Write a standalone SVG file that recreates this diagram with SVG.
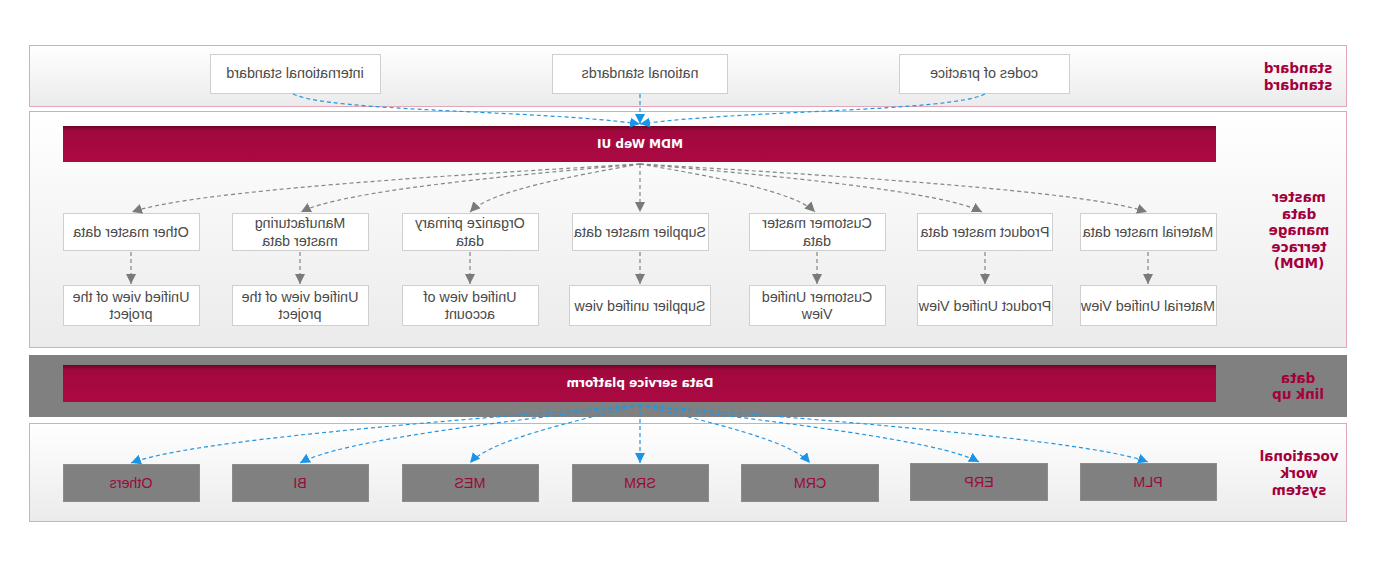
<svg xmlns="http://www.w3.org/2000/svg" width="1380" height="570" viewBox="0 0 1380 570">
<defs>
<style>
.band{fill:url(#bandg);stroke:#e2a6b8;stroke-width:1}
.box{fill:#fff;stroke:#cfcfcf;stroke-width:1}
.gbox{fill:#808080;stroke:#8c8c8c;stroke-width:1}
.bar{fill:url(#barg)}
.t{font-family:"Liberation Sans",Arial,sans-serif;font-size:14.3px;fill:#4a4a4a;text-anchor:middle}
.gt{font-family:"Liberation Sans",Arial,sans-serif;font-size:14.3px;fill:#9c0a3c;text-anchor:middle}
.bt{font-family:"DejaVu Sans",Verdana,sans-serif;font-weight:bold;font-size:12px;fill:#fff;text-anchor:middle}
.lbl{font-family:"DejaVu Sans",Verdana,sans-serif;font-weight:bold;font-size:13.5px;fill:#a3003c;text-anchor:middle}
.gc{fill:none;stroke:#858585;stroke-width:1.2;stroke-dasharray:4 3;marker-end:url(#ag)}
.bc{fill:none;stroke:#2196e3;stroke-width:1.2;stroke-dasharray:4 3;marker-end:url(#ab)}
</style>
<linearGradient id="bandg" x1="0" y1="0" x2="0" y2="1"><stop offset="0" stop-color="#ffffff"/><stop offset="1" stop-color="#ebebeb"/></linearGradient>
<linearGradient id="barg" x1="0" y1="0" x2="0" y2="1"><stop offset="0" stop-color="#6e0424"/><stop offset="0.14" stop-color="#a1083e"/><stop offset="1" stop-color="#ab0a41"/></linearGradient>
<marker id="ag" viewBox="0 0 10 10" refX="10" refY="5" markerWidth="10" markerHeight="10" markerUnits="userSpaceOnUse" orient="auto"><path d="M0,0 L10,5 L0,10 z" fill="#7a7a7a"/></marker>
<marker id="ab" viewBox="0 0 10 10" refX="10" refY="5" markerWidth="10" markerHeight="10" markerUnits="userSpaceOnUse" orient="auto"><path d="M0,0 L10,5 L0,10 z" fill="#1a94e6"/></marker>
</defs>
<rect width="1380" height="570" fill="#ffffff"/>

<g id="bands">
<rect class="band" x="29.5" y="45.5" width="1317" height="61"/>
<rect class="band" x="29.5" y="111.5" width="1317" height="236"/>
<rect x="29" y="355" width="1318" height="62" fill="#808080"/>
<rect class="band" x="29.5" y="423.5" width="1317" height="98"/>
</g>

<g id="labels">
<text class="lbl" transform="matrix(-1 0 0 1 2596 0)"><tspan x="1298" y="73">standard</tspan><tspan x="1298" y="90">standard</tspan></text>
<text class="lbl" transform="matrix(-1 0 0 1 2598 0)"><tspan x="1299" y="202">master</tspan><tspan x="1299" y="218.5">data</tspan><tspan x="1299" y="235">manage</tspan><tspan x="1299" y="251.5">terrace</tspan><tspan x="1299" y="268">(MDM)</tspan></text>
<text class="lbl" transform="matrix(-1 0 0 1 2596 0)"><tspan x="1298" y="383">data</tspan><tspan x="1298" y="399">link up</tspan></text>
<text class="lbl" transform="matrix(-1 0 0 1 2598 0)"><tspan x="1299" y="461">vocational</tspan><tspan x="1299" y="478">work</tspan><tspan x="1299" y="495">system</tspan></text>
</g>

<g id="n-intl"><rect class="box" x="210.5" y="54.5" width="170" height="39"/><text class="t" x="295" y="78" transform="matrix(-1 0 0 1 590 0)">international standard</text></g>
<g id="n-national"><rect class="box" x="552.5" y="54.5" width="175" height="39"/><text class="t" x="640" y="78" transform="matrix(-1 0 0 1 1280 0)">national standards</text></g>
<g id="n-codes"><rect class="box" x="899.5" y="54.5" width="170" height="39"/><text class="t" x="984" y="78" transform="matrix(-1 0 0 1 1968 0)">codes of practice</text></g>

<g id="n-mdmui"><rect class="bar" x="63" y="126" width="1153" height="36"/><text class="bt" x="640" y="148" transform="matrix(-1 0 0 1 1280 0)">MDM Web UI</text></g>

<g id="n-other"><rect class="box" x="63.5" y="213.5" width="136" height="37"/><text class="t" x="131" y="237" transform="matrix(-1 0 0 1 262 0)">Other master data</text></g>
<g id="n-manuf"><rect class="box" x="232.5" y="213.5" width="136" height="37"/><text class="t" transform="matrix(-1 0 0 1 600 0)"><tspan x="300" y="228">Manufacturing</tspan><tspan x="300" y="246">master data</tspan></text></g>
<g id="n-org"><rect class="box" x="402.5" y="213.5" width="136" height="37"/><text class="t" transform="matrix(-1 0 0 1 940 0)"><tspan x="470" y="228">Organize primary</tspan><tspan x="470" y="246">data</tspan></text></g>
<g id="n-supp"><rect class="box" x="572.5" y="213.5" width="136" height="37"/><text class="t" x="640" y="237" transform="matrix(-1 0 0 1 1280 0)">Supplier master data</text></g>
<g id="n-cust"><rect class="box" x="749.5" y="213.5" width="136" height="37"/><text class="t" transform="matrix(-1 0 0 1 1634 0)"><tspan x="817" y="228">Customer master</tspan><tspan x="817" y="246">data</tspan></text></g>
<g id="n-prod"><rect class="box" x="917.5" y="213.5" width="135" height="37"/><text class="t" x="985" y="237" transform="matrix(-1 0 0 1 1970 0)">Product master data</text></g>
<g id="n-mat"><rect class="box" x="1080.5" y="213.5" width="136" height="37"/><text class="t" x="1148" y="237" transform="matrix(-1 0 0 1 2296 0)">Material master data</text></g>

<g id="n-uv-other"><rect class="box" x="63.5" y="285.5" width="136" height="40"/><text class="t" transform="matrix(-1 0 0 1 262 0)"><tspan x="131" y="302">Unified view of the</tspan><tspan x="131" y="319">project</tspan></text></g>
<g id="n-uv-manuf"><rect class="box" x="232.5" y="285.5" width="136" height="40"/><text class="t" transform="matrix(-1 0 0 1 600 0)"><tspan x="300" y="302">Unified view of the</tspan><tspan x="300" y="319">project</tspan></text></g>
<g id="n-uv-org"><rect class="box" x="402.5" y="285.5" width="136" height="40"/><text class="t" transform="matrix(-1 0 0 1 940 0)"><tspan x="470" y="302">Unified view of</tspan><tspan x="470" y="319">account</tspan></text></g>
<g id="n-uv-supp"><rect class="box" x="569.5" y="285.5" width="141" height="40"/><text class="t" x="640" y="310.5" transform="matrix(-1 0 0 1 1280 0)">Supplier unified view</text></g>
<g id="n-uv-cust"><rect class="box" x="749.5" y="285.5" width="136" height="40"/><text class="t" transform="matrix(-1 0 0 1 1634 0)"><tspan x="817" y="302">Customer Unified</tspan><tspan x="817" y="319">View</tspan></text></g>
<g id="n-uv-prod"><rect class="box" x="917.5" y="285.5" width="135" height="40"/><text class="t" x="985" y="310.5" transform="matrix(-1 0 0 1 1970 0)">Product Unified View</text></g>
<g id="n-uv-mat"><rect class="box" x="1080.5" y="285.5" width="136" height="40"/><text class="t" x="1148" y="310.5" transform="matrix(-1 0 0 1 2296 0)">Material Unified View</text></g>

<g id="n-dsp"><rect class="bar" x="63" y="365" width="1153" height="37"/><text class="bt" x="640" y="387" transform="matrix(-1 0 0 1 1280 0)">Data service platform</text></g>

<g id="n-others"><rect class="gbox" x="63.5" y="464.5" width="136" height="37"/><text class="gt" x="131" y="488" transform="matrix(-1 0 0 1 262 0)">Others</text></g>
<g id="n-bi"><rect class="gbox" x="232.5" y="464.5" width="136" height="37"/><text class="gt" x="300" y="488" transform="matrix(-1 0 0 1 600 0)">BI</text></g>
<g id="n-mes"><rect class="gbox" x="402.5" y="464.5" width="136" height="37"/><text class="gt" x="470" y="488" transform="matrix(-1 0 0 1 940 0)">MES</text></g>
<g id="n-srm"><rect class="gbox" x="572.5" y="464.5" width="136" height="37"/><text class="gt" x="640" y="488" transform="matrix(-1 0 0 1 1280 0)">SRM</text></g>
<g id="n-crm"><rect class="gbox" x="741.5" y="464.5" width="137" height="37"/><text class="gt" x="810" y="488" transform="matrix(-1 0 0 1 1620 0)">CRM</text></g>
<g id="n-erp"><rect class="gbox" x="910.5" y="463.5" width="137" height="37"/><text class="gt" x="979" y="487" transform="matrix(-1 0 0 1 1958 0)">ERP</text></g>
<g id="n-plm"><rect class="gbox" x="1080.5" y="463.5" width="136" height="37"/><text class="gt" x="1148" y="487" transform="matrix(-1 0 0 1 2296 0)">PLM</text></g>

<g id="connectors">
<path class="bc" d="M293,94 C330,112 540,110 640,124"/>
<path class="bc" d="M640,94 L640,124"/>
<path class="bc" d="M985,94 C950,112 740,110 640,124"/>

<path class="gc" d="M640,164 C437,176 193,191 132,212"/>
<path class="gc" d="M640,164 C504,176 342,191 301,212"/>
<path class="gc" d="M640,164 C572,176 490,191 470,212"/>
<path class="gc" d="M640,164 L640,212"/>
<path class="gc" d="M640,164 C710,176 794,191 815,212"/>
<path class="gc" d="M640,164 C777,176 941,191 982,212"/>
<path class="gc" d="M640,164 C843,176 1086,191 1147,212"/>

<path class="gc" d="M131,252 L131,284"/>
<path class="gc" d="M300,252 L300,284"/>
<path class="gc" d="M470,252 L470,284"/>
<path class="gc" d="M640,252 L640,284"/>
<path class="gc" d="M817,252 L817,284"/>
<path class="gc" d="M985,252 L985,284"/>
<path class="gc" d="M1148,252 L1148,284"/>

<path class="bc" d="M640,405 C436,422 192,440 131,463"/>
<path class="bc" d="M640,405 C504,422 341,440 300,463"/>
<path class="bc" d="M640,405 C572,422 490,440 470,463"/>
<path class="bc" d="M640,405 L640,463"/>
<path class="bc" d="M640,405 C708,422 790,440 810,463"/>
<path class="bc" d="M640,405 C776,422 938,440 979,462"/>
<path class="bc" d="M640,405 C843,422 1087,440 1148,462"/>
</g>
</svg>
